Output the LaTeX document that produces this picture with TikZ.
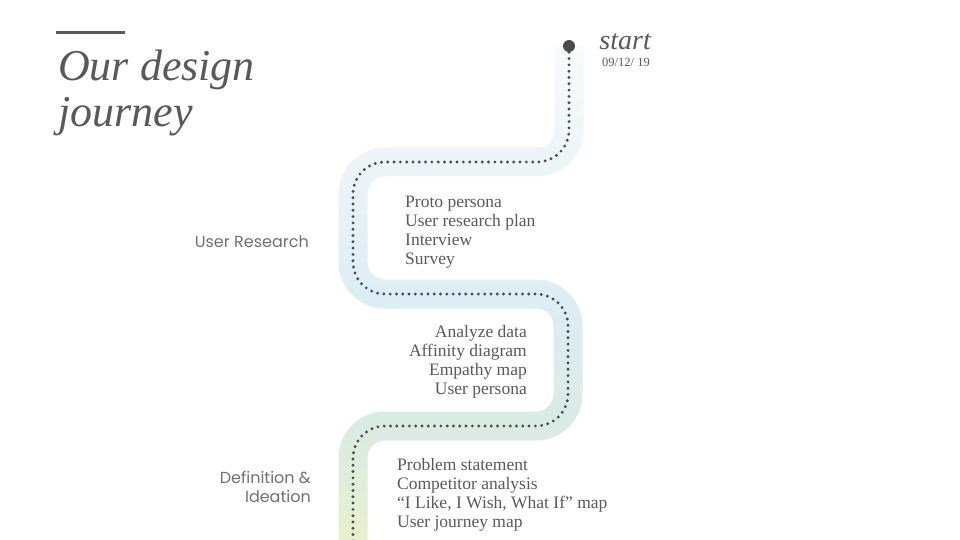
\documentclass[tikz,border=0pt]{standalone}
\usepackage{fontspec}
\setmainfont{Liberation Serif}
\newfontfamily\labelfont{Poppins}
\definecolor{txt}{HTML}{595959}
\definecolor{lblc}{HTML}{707070}
\definecolor{dotc}{HTML}{4A4A4A}
\definecolor{cA}{HTML}{F8FAFB}
\definecolor{cB}{HTML}{EDF4F8}
\definecolor{cC}{HTML}{DCEDF5}
\definecolor{cD}{HTML}{DAEBE4}
\definecolor{cE}{HTML}{E8F0CB}
\tikzset{
  roadroute/.style={rounded corners=32pt, insert path={(569,46) -- (569,162) -- (353,162) -- (353,294) -- (568,294) -- (568,426) -- (353,426) -- (353,570)}},
  stepsl/.style={align=left, font=\fontsize{17.5}{19}\selectfont, text=txt, inner sep=0pt},
  stepsr/.style={align=right, font=\fontsize{17.5}{19}\selectfont, text=txt, inner sep=0pt},
  lbl/.style={align=right, font=\labelfont\fontsize{16}{19}\selectfont, text=lblc, inner sep=0pt},
}
\begin{document}
\begin{tikzpicture}[x=1pt,y=-1pt]
\useasboundingbox (0,0) rectangle (960,540);
% road band with vertical gradient, drawn in thin strips
\foreach \y in {40,46,...,540}{
  \ifnum\y<162
    \pgfmathtruncatemacro\p{max(0,100*(\y-46)/116)}
    \colorlet{strip}{cB!\p!cA}
  \else\ifnum\y<294
    \pgfmathtruncatemacro\p{100*(\y-162)/132}
    \colorlet{strip}{cC!\p!cB}
  \else\ifnum\y<426
    \pgfmathtruncatemacro\p{100*(\y-294)/132}
    \colorlet{strip}{cD!\p!cC}
  \else
    \pgfmathtruncatemacro\p{min(100,100*(\y-426)/114)}
    \colorlet{strip}{cE!\p!cD}
  \fi\fi\fi
  \begin{scope}
    \clip (0,\y) rectangle (960,\y+6.6);
    \draw[line width=29pt, strip, roadroute];
  \end{scope}
}
% dotted centre line
\draw[dotc, line width=3.2pt, line cap=round, dash pattern=on 0pt off 6.3pt, roadroute];
% start marker
\node[circle, fill=dotc, minimum size=12pt, inner sep=0pt] (startdot) at (569,46) {};
\node[anchor=base east, font=\itshape\fontsize{28}{28}\selectfont, text=txt, inner sep=0pt] (start) at (651,50) {start};
\node[anchor=base east, font=\fontsize{12.5}{13}\selectfont, text=txt, inner sep=0pt] (date) at (650,67) {09/12/ 19};
% title
\draw[line width=3pt, txt] (56,33) -- (125,33);
\node[anchor=north west, align=left, font=\itshape\fontsize{44}{46}\selectfont, text=txt, inner sep=0pt] (title) at (58,50) {Our design\\journey};
% step lists
\node[stepsl, anchor=west] (research) at (405,232) {Proto persona\\User research plan\\Interview\\Survey};
\node[stepsr, anchor=east] (analysis) at (527,362) {Analyze data\\Affinity diagram\\Empathy map\\User persona};
\node[stepsl, anchor=west] (ideation) at (397,495) {Problem statement\\Competitor analysis\\“I Like, I Wish, What If” map\\User journey map};
% phase labels
\node[lbl, anchor=east] (phase1) at (309,242) {User Research};
\node[lbl, anchor=east] (phase2) at (311,486.5) {Definition \&\\Ideation};
\end{tikzpicture}
\end{document}
